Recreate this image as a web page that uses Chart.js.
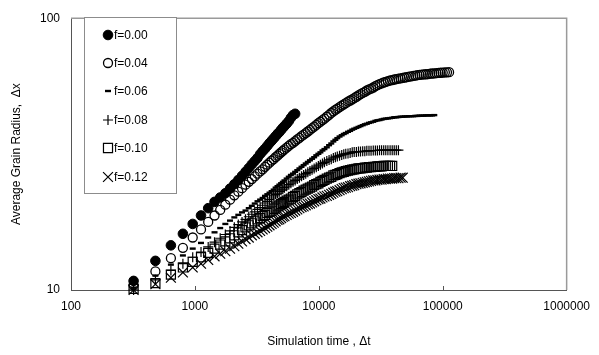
<!DOCTYPE html>
<html lang="en">
<head>
<meta charset="UTF-8">
<title>Average Grain Radius</title>
<script src="https://cdn.jsdelivr.net/npm/chart.js"></script>
<style>
  html, body { margin: 0; padding: 0; background: #fff; }
  #wrap { width: 599px; height: 355px; position: relative; }
</style>
</head>
<body>
<div id="wrap"><canvas id="grafico" width="599" height="355"></canvas></div>
<script>
// sample times (simulation steps): every 160 steps early on, then thinned out
const times = [320, 480, 640, 800, 960, 1120, 1280, 1440, 1600, 1760, 1920, 2080, 2240, 2400, 2560, 2720, 2880, 3040, 3200,
  3360, 3520, 3680, 3840, 4000, 4160, 4320, 4480, 4640, 4800, 4960, 5120, 5280,
  5500, 5720, 5950, 6190, 6440, 6700, 6970, 7250, 7540, 7840, 8150, 8480, 8820, 9170, 9540, 9920,
  10300, 10700, 11100, 11600, 12100, 12600, 13100, 13600, 14100,
  14700, 15300, 15900, 16500, 17200, 17900, 18600, 19300,
  20100, 20900, 21700, 22600, 23500, 24400, 25400, 26400, 27500, 28600, 29700,
  30900, 32100, 33400, 34700, 36100, 37600, 39100,
  40600, 42200, 43900, 45700, 47500, 49400,
  51400, 53400, 55600, 57800, 60100, 62500,
  65000, 67600, 70300, 73100, 76000, 79100,
  82200, 85500, 88900, 92500, 96200, 100000,
  104000, 108200, 112500];

// average grain radius for each pinning fraction f
const r000 = [10.8, 12.8, 14.6, 16.1, 17.5, 18.8, 20.0, 21.1, 21.9, 22.7, 23.6, 24.5, 25.4, 26.3, 27.2, 28.1, 29.0, 29.8, 30.6,
  31.6, 32.4, 33.1, 33.9, 34.7, 35.4, 36.1, 36.8, 37.5, 38.1, 38.8, 39.5, 40.1,
  40.9, 41.8, 43.0, 44.0, 44.5];
const r004 = [10.4, 11.7, 13.1, 14.3, 15.6, 16.7, 17.8, 18.8, 19.7, 20.6, 21.5, 22.3, 23.0, 23.7, 24.4, 25.0, 25.6, 26.2, 26.8,
  27.3, 27.8, 28.4, 28.9, 29.4, 29.9, 30.3, 30.8, 31.2, 31.7, 32.1, 32.5, 32.9,
  33.4, 33.9, 34.4, 34.8, 35.3, 35.8, 36.3, 36.8, 37.3, 37.8, 38.3, 38.8, 39.4, 39.9, 40.5, 41.1,
  41.6, 42.2, 42.7, 43.4, 44.1, 44.8, 45.4, 46.0, 46.5,
  47.1, 47.7, 48.2, 48.7, 49.3, 49.8, 50.3, 50.8,
  51.4, 52.0, 52.6, 53.1, 53.6, 54.2, 54.7, 55.1, 55.6, 56.2, 56.7,
  57.2, 57.6, 58.0, 58.3, 58.7, 59.0, 59.2,
  59.5, 59.7, 59.9, 60.1, 60.3, 60.5,
  60.7, 61.0, 61.1, 61.3, 61.5, 61.7,
  61.9, 62.0, 62.1, 62.2, 62.3, 62.5,
  62.6, 62.7, 62.8, 62.9, 63.0, 63.1,
  63.2, 63.2, 63.3];
const r006 = [10.2, 11.3, 12.4, 13.4, 14.2, 14.9, 15.6, 16.3, 16.9, 17.5, 18.0, 18.5, 18.9, 19.3, 19.6, 20.0, 20.4, 20.8, 21.2,
  21.5, 21.8, 22.2, 22.5, 22.8, 23.1, 23.4, 23.8, 24.1, 24.4, 24.7, 25.0, 25.3,
  25.7, 26.1, 26.5, 26.8, 27.2, 27.6, 28.0, 28.4, 28.8, 29.2, 29.6, 30.0, 30.4, 30.8, 31.3, 31.7,
  32.1, 32.6, 33.0, 33.5, 34.1, 34.6, 35.2, 35.7, 36.2,
  36.7, 37.1, 37.5, 37.8, 38.2, 38.5, 38.9, 39.2,
  39.5, 39.8, 40.1, 40.4, 40.7, 40.9, 41.2, 41.4, 41.6, 41.9, 42.1,
  42.2, 42.4, 42.6, 42.7, 42.8, 42.9, 43.0,
  43.2, 43.2, 43.3, 43.4, 43.4, 43.5,
  43.5, 43.6, 43.6, 43.6, 43.7, 43.7,
  43.8, 43.8, 43.8, 43.9, 43.9, 43.9,
  43.9, 44.0];
const r008 = [10.0, 10.9, 11.8, 12.5, 13.2, 13.8, 14.4, 15.0, 15.5, 16.0, 16.5, 17.0, 17.4, 17.8, 18.2, 18.6, 19.0, 19.4, 19.8,
  20.1, 20.5, 20.9, 21.2, 21.5, 21.8, 22.2, 22.5, 22.7, 23.0, 23.3, 23.5, 23.8,
  24.1, 24.4, 24.7, 25.0, 25.3, 25.6, 25.9, 26.2, 26.5, 26.8, 27.1, 27.4, 27.7, 28.0, 28.3, 28.6,
  28.9, 29.2, 29.5, 29.8, 30.1, 30.3, 30.6, 30.8, 31.0,
  31.2, 31.4, 31.6, 31.7, 31.8, 31.9, 32.1, 32.2,
  32.2, 32.3, 32.3, 32.4, 32.4, 32.5, 32.5, 32.5, 32.6, 32.6, 32.6,
  32.7, 32.7, 32.7, 32.7, 32.7, 32.7, 32.7,
  32.7, 32.7, 32.7];
const r010 = [10.1, 10.6, 11.4, 12.1, 12.7, 13.2, 13.7, 14.2, 14.7, 15.1, 15.5, 15.9, 16.3, 16.6, 17.0, 17.3, 17.6, 17.9, 18.2,
  18.4, 18.7, 18.9, 19.2, 19.4, 19.6, 19.9, 20.1, 20.3, 20.5, 20.7, 20.9, 21.1,
  21.3, 21.5, 21.7, 22.0, 22.2, 22.5, 22.7, 22.9, 23.2, 23.4, 23.6, 23.8, 24.0, 24.3, 24.5, 24.7,
  25.0, 25.2, 25.4, 25.7, 25.9, 26.1, 26.4, 26.5, 26.7,
  26.9, 27.1, 27.2, 27.4, 27.5, 27.6, 27.7, 27.8,
  27.9, 28.0, 28.0, 28.1, 28.2, 28.2, 28.3, 28.3, 28.4, 28.4, 28.5,
  28.5, 28.5, 28.6, 28.6, 28.6, 28.6, 28.6];
const r012 = [10.0, 10.5, 11.1, 11.6, 12.1, 12.5, 12.9, 13.3, 13.6, 13.9, 14.2, 14.5, 14.8, 15.1, 15.4, 15.6, 15.9, 16.1, 16.3,
  16.5, 16.7, 16.9, 17.1, 17.3, 17.5, 17.7, 17.9, 18.1, 18.2, 18.4, 18.6, 18.7,
  18.9, 19.1, 19.2, 19.4, 19.6, 19.8, 20.0, 20.2, 20.3, 20.5, 20.7, 20.8, 21.0, 21.2, 21.4, 21.6,
  21.7, 21.9, 22.1, 22.2, 22.4, 22.6, 22.8, 23.0, 23.1,
  23.3, 23.5, 23.7, 23.8, 23.9, 24.1, 24.2, 24.3,
  24.5, 24.6, 24.7, 24.8, 24.9, 25.0, 25.1, 25.2, 25.3, 25.3, 25.4,
  25.5, 25.5, 25.6, 25.6, 25.7, 25.7, 25.7,
  25.8, 25.8, 25.8, 25.9, 25.9];

const xTicks = [100, 1000, 10000, 100000, 1000000];
const yTicks = [10, 100];
const seriesNames = ['f=0.00', 'f=0.04', 'f=0.06', 'f=0.08', 'f=0.10', 'f=0.12'];

const FONT = 'Arial, "Liberation Sans", sans-serif';
const clear = 'rgba(0,0,0,0)';

function pts(vals) {
  return vals.map((v, i) => ({ x: times[i], y: v }));
}

const series = [
  { data: r000, pointStyle: 'circle', radius: 4.8, bg: '#000', bw: 1 },
  { data: r004, pointStyle: 'circle', radius: 4.5, bg: clear, bw: 1.3 },
  { data: r006, pointStyle: 'line', radius: 3, bg: clear, bw: 2.4 },
  { data: r008, pointStyle: 'cross', radius: 5, bg: clear, bw: 1.2 },
  { data: r010, pointStyle: 'rect', radius: 6.4, bg: clear, bw: 1.2 },
  { data: r012, pointStyle: 'crossRot', radius: 7, bg: clear, bw: 1.2 }
];

// legend box drawn inside the plot area
const insideLegend = {
  id: 'insideLegend',
  afterDatasetsDraw(chart) {
    const ctx = chart.ctx;
    ctx.save();
    ctx.fillStyle = '#fff';
    ctx.fillRect(84, 17, 92, 176);
    ctx.strokeStyle = '#8c8c8c';
    ctx.lineWidth = 1;
    ctx.strokeRect(84.5, 17.5, 92, 176);
    ctx.font = '12px ' + FONT;
    ctx.textBaseline = 'middle';
    ctx.textAlign = 'left';
    ctx.fillStyle = '#000';
    const ys = [35, 63, 91, 120, 148, 177];
    seriesNames.forEach((name, i) => {
      const s = series[i];
      ctx.strokeStyle = '#000';
      ctx.fillStyle = s.bg === clear ? clear : '#000';
      ctx.lineWidth = s.bw;
      Chart.helpers.drawPoint(ctx, { pointStyle: s.pointStyle, radius: s.radius, rotation: 0, borderWidth: s.bw }, 108, ys[i]);
      ctx.fillStyle = '#000';
      ctx.fillText(name, 114, ys[i] + 0.5);
    });
    ctx.restore();
  },
  beforeDatasetsDraw(chart) {
    // grey frame on top / right, small inner ticks on the x axis
    const { ctx, chartArea: a, scales } = chart;
    ctx.save();
    ctx.strokeStyle = '#9a9a9a';
    ctx.lineWidth = 1.5;
    ctx.beginPath();
    ctx.moveTo(a.left, a.top);
    ctx.lineTo(a.right, a.top);
    ctx.lineTo(a.right, a.bottom);
    ctx.stroke();
    ctx.strokeStyle = '#555';
    ctx.lineWidth = 1;
    ctx.beginPath();
    xTicks.slice(1, -1).forEach(v => {
      const px = Math.round(scales.x.getPixelForValue(v)) + 0.5;
      ctx.moveTo(px, a.bottom);
      ctx.lineTo(px, a.bottom - 4);
    });
    ctx.stroke();
    ctx.restore();
  }
};

new Chart(document.getElementById('grafico').getContext('2d'), {
  type: 'scatter',
  data: {
    datasets: series.map((s, i) => ({
      label: seriesNames[i],
      data: pts(s.data),
      pointStyle: s.pointStyle,
      pointRadius: s.radius,
      pointBackgroundColor: s.bg,
      pointBorderColor: '#000',
      pointBorderWidth: s.bw,
      showLine: false,
      clip: false
    }))
  },
  options: {
    responsive: false,
    animation: false,
    devicePixelRatio: 1,
    layout: { padding: { left: 0, right: 25, top: 12, bottom: 0 } },
    plugins: { legend: { display: false }, tooltip: { enabled: false } },
    scales: {
      x: {
        type: 'logarithmic',
        min: 100, max: 1000000,
        afterBuildTicks: s => { s.ticks = xTicks.map(v => ({ value: v })); },
        afterFit: s => { s.height = 65; },
        grid: { display: false, drawTicks: false, tickLength: 0 },
        border: { display: true, color: '#555', width: 1 },
        ticks: {
          padding: 9, color: '#000', maxRotation: 0, autoSkip: false,
          font: { size: 12, family: FONT },
          callback: v => String(v)
        },
        title: {
          display: true, text: 'Simulation time , Δt', color: '#000',
          font: { size: 12, family: FONT }, padding: { top: 0, bottom: 6 }
        }
      },
      y: {
        type: 'logarithmic',
        min: 10, max: 100,
        afterBuildTicks: s => { s.ticks = yTicks.map(v => ({ value: v })); },
        afterFit: s => { s.width = 71; },
        grid: { display: false, drawTicks: false, tickLength: 0 },
        border: { display: true, color: '#555', width: 1 },
        ticks: {
          padding: 11, color: '#000', autoSkip: false,
          font: { size: 12, family: FONT },
          callback: v => String(v)
        },
        title: {
          display: true, text: 'Average Grain Radius,  Δx', color: '#000',
          font: { size: 12, family: FONT }, padding: { top: 9, bottom: 0 }
        }
      }
    }
  },
  plugins: [insideLegend]
});
</script>
</body>
</html>
